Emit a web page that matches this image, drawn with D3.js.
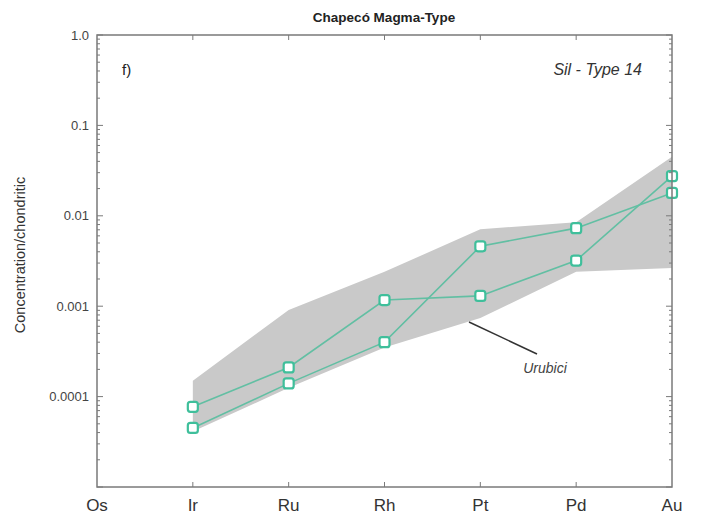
<!DOCTYPE html>
<html>
<head>
<meta charset="utf-8">
<script src="https://cdn.jsdelivr.net/npm/d3@7/dist/d3.min.js"></script>
<style>
  html, body { margin: 0; padding: 0; background: #fff; }
  svg { display: block; font-family: "Liberation Sans", Arial, sans-serif; }
</style>
</head>
<body>
<svg id="chart" width="701" height="520"></svg>
<script>
const elements = ["Os", "Ir", "Ru", "Rh", "Pt", "Pd", "Au"];
const seriesA = [null, 7.7e-5, 2.1e-4, 1.17e-3, 1.3e-3, 3.2e-3, 0.0275];
const seriesB = [null, 4.5e-5, 1.4e-4, 4.0e-4, 4.6e-3, 7.3e-3, 0.0179];
const bandUpper = [null, 1.5e-4, 9.1e-4, 2.4e-3, 7.1e-3, 8.5e-3, 0.045];
const bandLower = [null, 4.1e-5, 1.25e-4, 3.5e-4, 7.4e-4, 2.4e-3, 2.65e-3];
const yTickValues = [1, 0.1, 0.01, 0.001, 0.0001];
const yTickLabels = ["1.0", "0.1", "0.01", "0.001", "0.0001"];

const svg = d3.select("#chart");
const L = 97, R = 672, T = 35, B = 487;

const x = d3.scalePoint().domain(elements).range([L, R]);
const y = d3.scaleLog().domain([1e-5, 1]).range([B, T]);

const axisColor = "#7a7a7a";

// Band
const bandPts = [];
elements.forEach((e, i) => { if (bandUpper[i] != null) bandPts.push([x(e), y(bandUpper[i])]); });
for (let i = elements.length - 1; i >= 0; i--) {
  if (bandLower[i] != null) bandPts.push([x(elements[i]), y(bandLower[i])]);
}
svg.append("path")
  .attr("d", d3.line()(bandPts) + "Z")
  .attr("fill", "#c9c9c9")
  .attr("stroke", "none");

// Series lines
const line = d3.line()
  .defined(d => d.v != null)
  .x(d => x(d.e)).y(d => y(d.v));
[seriesA, seriesB].forEach(s => {
  const data = elements.map((e, i) => ({ e, v: s[i] }));
  svg.append("path")
    .attr("d", line(data))
    .attr("fill", "none")
    .attr("stroke", "#62bfa3")
    .attr("stroke-width", 1.6);
});
[seriesA, seriesB].forEach(s => {
  const data = elements.map((e, i) => ({ e, v: s[i] })).filter(d => d.v != null);
  svg.selectAll(null).data(data).enter().append("rect")
    .attr("x", d => x(d.e) - 5).attr("y", d => y(d.v) - 5)
    .attr("width", 10).attr("height", 10)
    .attr("rx", 2.5)
    .attr("fill", "#ffffff")
    .attr("stroke", "#3fbf9b")
    .attr("stroke-width", 2.2);
});

// Frame
svg.append("rect")
  .attr("x", L).attr("y", T).attr("width", R - L).attr("height", B - T)
  .attr("fill", "none").attr("stroke", axisColor).attr("stroke-width", 1.5);

// Y ticks (inward), both sides
const minor = [];
for (let d = -5; d < 0; d++) for (let k = 2; k <= 9; k++) minor.push(k * Math.pow(10, d));
const majors = [1e-5, 1e-4, 1e-3, 1e-2, 1e-1, 1];
[[L, 1], [R, -1]].forEach(([px, dir]) => {
  svg.selectAll(null).data(majors).enter().append("line")
    .attr("x1", px).attr("x2", px + dir * 6)
    .attr("y1", d => y(d)).attr("y2", d => y(d))
    .attr("stroke", axisColor).attr("stroke-width", 1);
  svg.selectAll(null).data(minor).enter().append("line")
    .attr("x1", px).attr("x2", px + dir * 3)
    .attr("y1", d => y(d)).attr("y2", d => y(d))
    .attr("stroke", axisColor).attr("stroke-width", 1);
});
// X ticks (inward), top and bottom
[[B, -1], [T, 1]].forEach(([py, dir]) => {
  svg.selectAll(null).data(elements.slice(1, -1)).enter().append("line")
    .attr("x1", d => x(d)).attr("x2", d => x(d))
    .attr("y1", py).attr("y2", py + dir * 5)
    .attr("stroke", axisColor).attr("stroke-width", 1);
});

// Y tick labels
svg.selectAll(null).data(yTickValues).enter().append("text")
  .attr("x", L - 8).attr("y", d => y(d))
  .attr("dy", "0.35em")
  .attr("text-anchor", "end")
  .attr("font-size", 13)
  .attr("fill", "#444")
  .text((d, i) => yTickLabels[i]);

// X labels
svg.selectAll(null).data(elements).enter().append("text")
  .attr("x", d => x(d)).attr("y", 511)
  .attr("text-anchor", "middle")
  .attr("font-size", 17)
  .attr("fill", "#333")
  .text(d => d);

// Title
svg.append("text")
  .attr("x", 384).attr("y", 22)
  .attr("text-anchor", "middle")
  .attr("font-size", 13.5).attr("font-weight", "bold")
  .attr("fill", "#222")
  .text("Chapecó Magma-Type");

// Y axis label
svg.append("text")
  .attr("transform", "translate(25,255) rotate(-90)")
  .attr("text-anchor", "middle")
  .attr("font-size", 14.5)
  .attr("fill", "#333")
  .text("Concentration/chondritic");

// Panel label
svg.append("text")
  .attr("x", 122).attr("y", 75)
  .attr("font-size", 15)
  .attr("fill", "#222")
  .text("f)");

svg.append("text")
  .attr("x", 642).attr("y", 75)
  .attr("text-anchor", "end")
  .attr("font-size", 16).attr("font-style", "italic")
  .attr("fill", "#333")
  .text("Sil - Type 14");

// Urubici annotation
svg.append("line")
  .attr("x1", 469).attr("y1", 322).attr("x2", 537).attr("y2", 354)
  .attr("stroke", "#333").attr("stroke-width", 1.5);
svg.append("text")
  .attr("x", 545).attr("y", 373)
  .attr("text-anchor", "middle")
  .attr("font-size", 14).attr("font-style", "italic")
  .attr("fill", "#444")
  .text("Urubici");
</script>
</body>
</html>
